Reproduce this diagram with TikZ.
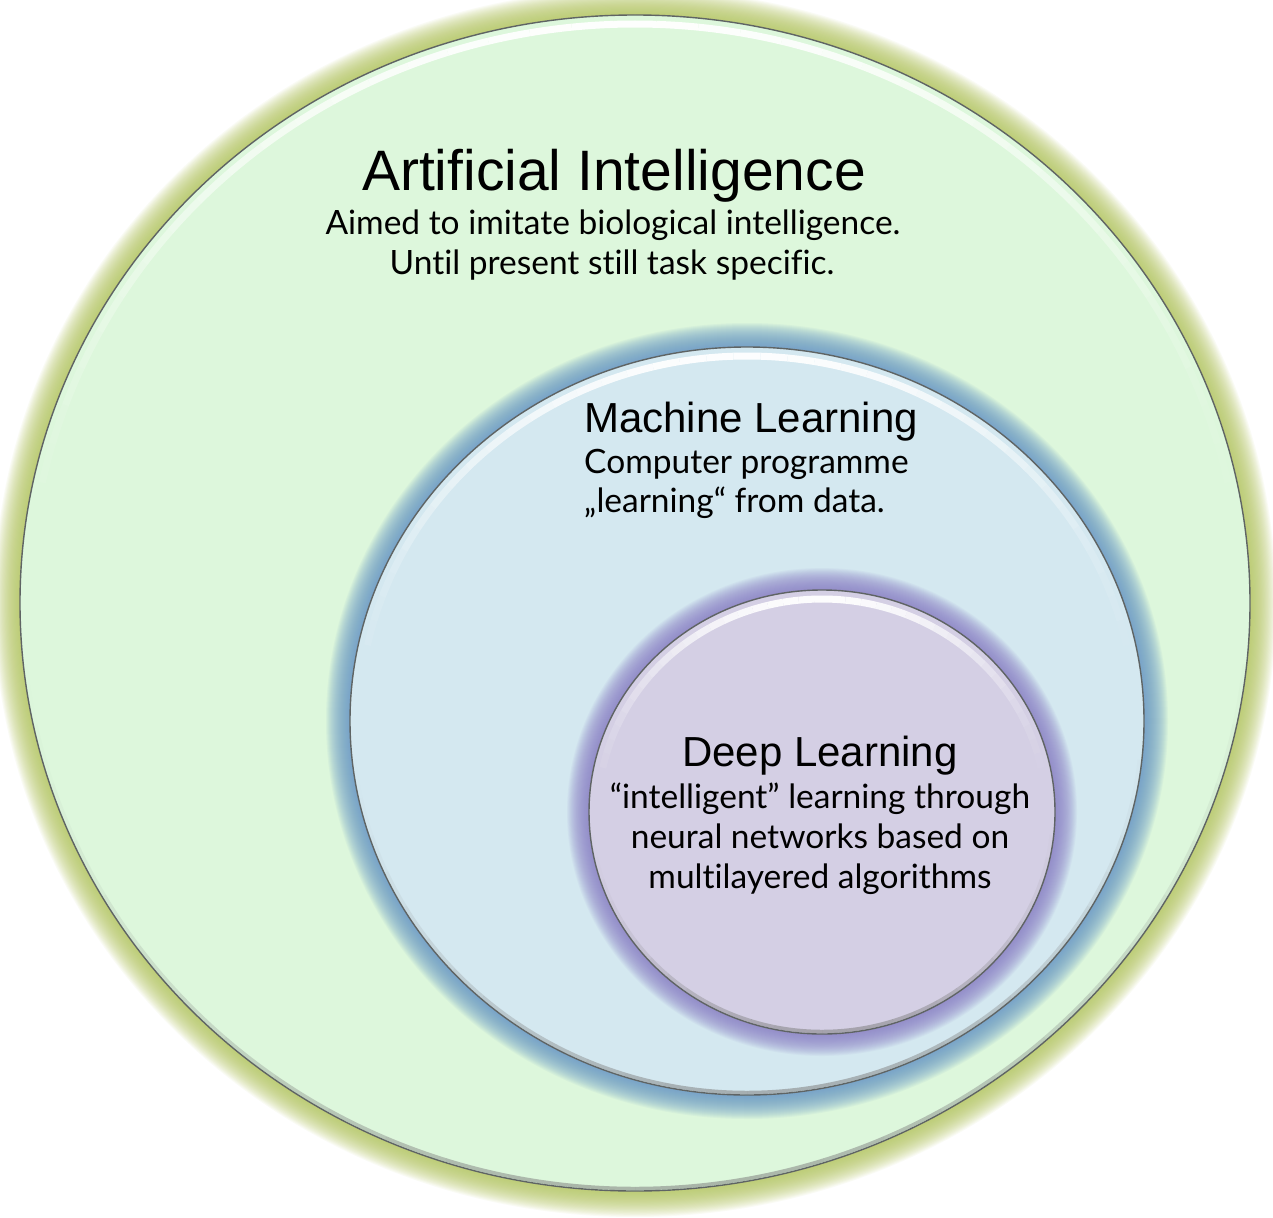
\documentclass[tikz,border=0pt]{standalone}
\usepackage{fontspec}
\setmainfont{Liberation Sans}
\newfontfamily\subfont[Ligatures=NoCommon]{Lato}
\usetikzlibrary{calc}
\definecolor{aiglow}{RGB}{180,200,96}
\definecolor{aifill}{RGB}{221,247,220}
\definecolor{mlglow}{RGB}{104,152,200}
\definecolor{mlfill}{RGB}{212,232,240}
\definecolor{dlglow}{RGB}{140,128,200}
\definecolor{dlfill}{RGB}{212,207,228}
\definecolor{edgegray}{RGB}{95,100,100}
\newcommand\drawbubble[7]{%
  % #1 cx, #2 cy, #3 rx, #4 ry, #5 glow colour, #6 fill colour, #7 glow width
  \foreach \k in {0,...,24}{%
    \pgfmathsetmacro\grx{#3+#7*(1-\k/24)}%
    \pgfmathsetmacro\gry{#4+#7*(1-\k/24)}%
    \fill[#5,opacity=0.065] (#1,#2) ellipse [x radius=\grx, y radius=\gry];
  }%
  \fill[#6] (#1,#2) ellipse [x radius=#3, y radius=#4];
  % bottom inner shadow
  \foreach \a in {186,192,...,348}{%
    \pgfmathsetmacro\op{0.55*sin(\a)*sin(\a)}%
    \draw[gray,line width=3.5,opacity=\op]
      ($(#1,#2)+({(#3-2.5)*cos(\a)},{(#4-2.5)*sin(\a)})$)
      arc[start angle=\a, end angle=\a+6, x radius=#3-2.5, y radius=#4-2.5];
  }%
  % top highlight
  \foreach \a in {12,16,...,164}{%
    \pgfmathsetmacro\op{0.95*sin(\a)*sin(\a)}%
    \draw[white,line width=7,opacity=\op]
      ($(#1,#2)+({(#3-9)*cos(\a)},{(#4-9)*sin(\a)})$)
      arc[start angle=\a, end angle=\a+4, x radius=#3-9, y radius=#4-9];
  }%
  \draw[edgegray,line width=1.4] (#1,#2) ellipse [x radius=#3, y radius=#4];
}
\tikzset{
  title/.style={font=\fontsize{#1}{#1}\selectfont, inner sep=0pt, anchor=base},
  sub/.style={font=\subfont\fontsize{33.5}{33.5}\selectfont, inner sep=0pt, anchor=base},
}
\begin{document}
\begin{tikzpicture}[x=1pt,y=1pt]
\useasboundingbox (0,0) rectangle (1273,-1217);
\fill[white] (0,0) rectangle (1273,-1217);
\drawbubble{635}{-603}{615}{588}{aiglow}{aifill}{26}
\drawbubble{747}{-721}{397}{374}{mlglow}{mlfill}{24}
\drawbubble{822}{-812}{233}{222}{dlglow}{dlfill}{22}

\node[title=57] (ait) at (614,-190) {Artificial Intelligence};
\node[sub] (ai1) at (613,-234) {Aimed to imitate biological intelligence.};
\node[sub] (ai2) at (612,-274) {Until present still task specific.};

\node[title=42, anchor=base west] (mlt) at (584,-432) {Machine Learning};
\node[sub, anchor=base west] (ml1) at (584,-473) {Computer programme};
\node[sub, anchor=base west] (ml2) at (584,-512) {„learning“ from data.};

\node[title=42] (dlt) at (820,-766) {Deep Learning};
\node[sub] (dl1) at (820,-808) {“intelligent” learning through};
\node[sub] (dl2) at (820,-848) {neural networks based on};
\node[sub] (dl3) at (820,-888) {multilayered algorithms};
\end{tikzpicture}
\end{document}
